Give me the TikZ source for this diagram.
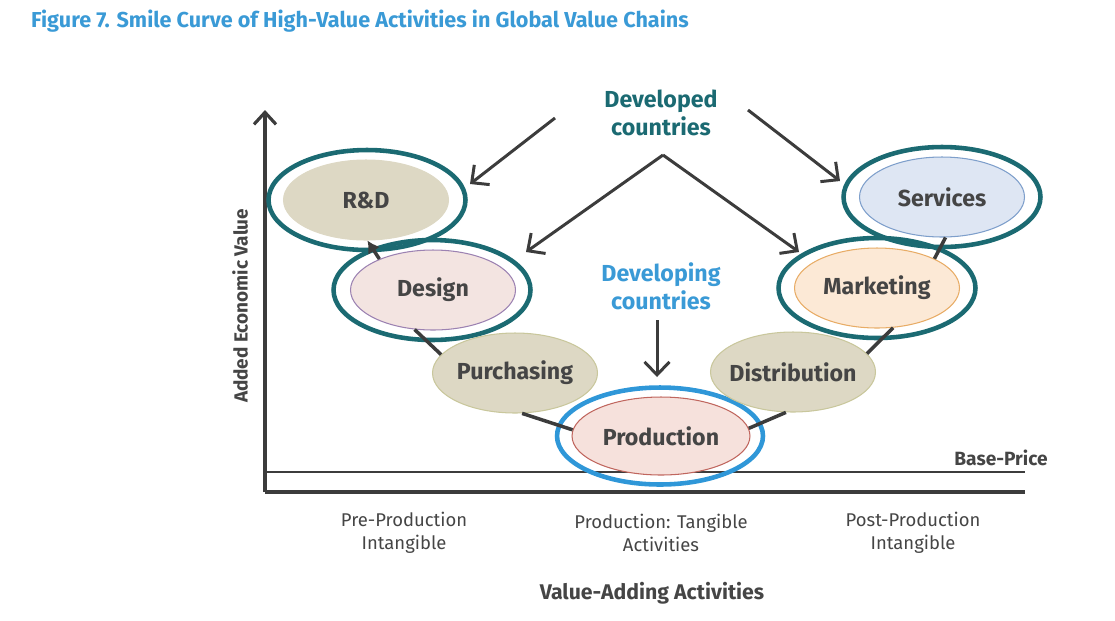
\documentclass[tikz,border=0pt]{standalone}
\usepackage{fontspec}
\setmainfont{Fira Sans}
\usepackage{xcolor}
\usetikzlibrary{shapes.geometric,arrows.meta,positioning}

\definecolor{titleblue}{HTML}{3A9AD6}
\definecolor{tealring}{HTML}{1B6A72}
\definecolor{bluering}{HTML}{2F97D8}
\definecolor{txtgray}{HTML}{454545}
\definecolor{linegray}{HTML}{3C3C3C}
\definecolor{tanfill}{HTML}{DDD8C4}
\definecolor{tandraw}{HTML}{C9C79C}
\definecolor{pinkfill}{HTML}{F3E4E1}
\definecolor{purpdraw}{HTML}{9C82B2}
\definecolor{prodfill}{HTML}{F6E1DC}
\definecolor{proddraw}{HTML}{C0665E}
\definecolor{orgfill}{HTML}{FCE9D6}
\definecolor{orgdraw}{HTML}{E8AC66}
\definecolor{bluefill}{HTML}{DEE6F3}
\definecolor{bluedraw}{HTML}{7E9FCB}

\begin{document}
\begin{tikzpicture}[
    x=0.02cm, y=-0.02cm,
    stage/.style={draw, ellipse, line width=0.6pt, minimum width=3.3cm, minimum height=1.6cm, inner xsep=-4mm, inner ysep=0pt, text=txtgray, font=\bfseries\fontsize{13.2}{15}\selectfont},
    ring/.style={draw=tealring, ellipse, line width=2.6pt, minimum width=3.94cm, minimum height=2cm, inner sep=0pt},
    link/.style={draw=linegray, line width=2pt},
    arrow/.style={-{Straight Barb[length=2.6mm, width=5mm]}, line width=1.7pt, draw=linegray},
    axis/.style={draw=linegray, line width=1.8pt},
    phase/.style={align=center, text=txtgray, font=\fontsize{10.5}{13}\selectfont},
    group/.style={align=center, font=\bfseries\fontsize{13.2}{16}\selectfont}
]
    \useasboundingbox (0,0) rectangle (1115,620);

    % Title
    \node [anchor=west, text=titleblue, font=\bfseries\fontsize{12.3}{14}\selectfont] (title) at (25,21) {Figure 7. Smile Curve of High-Value Activities in Global Value Chains};

    % Axes
    \coordinate (origin) at (265,492);
    \coordinate (ytop) at (265,110);
    \coordinate (xend) at (1025,492);
    \coordinate (base_l) at (265,472);
    \coordinate (base_r) at (1025,472);
    \draw [axis, -{Straight Barb[length=2.4mm, width=4.4mm]}] (origin) -- (ytop);
    \draw [axis] (origin) -- (xend);
    \draw [draw=linegray, line width=0.9pt] (base_l) -- (base_r);

    \node [rotate=90, text=txtgray, font=\bfseries\fontsize{10.8}{12}\selectfont] (ylabel) at (240,306) {Added Economic Value};
    \node [text=txtgray, font=\bfseries\fontsize{10.9}{12}\selectfont] (baseprice) at (1001,458) {Base-Price};

    % Stages
    \node [stage, fill=tanfill, draw=tanfill] (rd) at (366,200) {R\&D};
    \node [ring] (rd_ring) at (367,200) {};
    \node [stage, fill=pinkfill, draw=purpdraw] (design) at (433,290) {Design};
    \node [ring] (design_ring) at (432,290) {};
    \node [stage, fill=tanfill, draw=tandraw] (purch) at (515,373) {Purchasing};
    \node [stage, fill=prodfill, draw=proddraw, minimum width=3.56cm, minimum height=1.56cm] (prod) at (661,436) {Production};
    \node [ring, draw=bluering, minimum width=4.12cm, minimum height=1.94cm] (prod_ring) at (660,436) {};
    \node [stage, fill=tanfill, draw=tandraw] (distr) at (793,372) {Distribution};
    \node [stage, fill=orgfill, draw=orgdraw] (mkt) at (877,288) {Marketing};
    \node [ring] (mkt_ring) at (877,288) {};
    \node [stage, fill=bluefill, draw=bluedraw] (serv) at (942,197) {Services};
    \node [ring] (serv_ring) at (942,197) {};

    % Links along the curve
    \draw [link, -{Latex[length=2.4mm, width=2.8mm]}] (design.150) -- (rd.-88);
    \draw [link] (design.-115) -- (purch.166);
    \draw [link] (purch.-80) -- (prod.176);
    \draw [link] (prod.5) -- (distr.-100);
    \draw [link] (distr.14) -- (mkt.-68);
    \draw [link] (mkt.27) -- (serv.-85);

    % Country groups
    \node [group, text=tealring] (developed) at (661,113) {Developed\\countries};
    \node [group, text=titleblue] (developing) at (661,286) {Developing\\countries};

    \coordinate (dev_l_tail) at (555,118);
    \coordinate (dev_l_tip) at (470,184);
    \coordinate (dev_r_tail) at (748,110);
    \coordinate (dev_r_tip) at (840,181);
    \coordinate (dev_peak) at (663,155);
    \coordinate (dev_cl_tip) at (526,252);
    \coordinate (dev_cr_tip) at (799,252);
    \coordinate (dvg_tail) at (657,320);
    \coordinate (dvg_tip) at (657,377);

    \draw [arrow] (dev_l_tail) -- (dev_l_tip);
    \draw [arrow] (dev_r_tail) -- (dev_r_tip);
    \draw [arrow] (dev_peak) -- (dev_cl_tip);
    \draw [arrow] (dev_peak) -- (dev_cr_tip);
    \draw [arrow] (dvg_tail) -- (dvg_tip);

    % Activity groups
    \node [phase] (pre) at (404,533) {Pre-Production\\Intangible};
    \node [phase] (tangible) at (661,533) {Production: Tangible\\Activities};
    \node [phase] (post) at (913,533) {Post-Production\\Intangible};
    \node [text=txtgray, font=\bfseries\fontsize{12.1}{14}\selectfont] (xlabel) at (652,593) {Value-Adding Activities};

\end{tikzpicture}
\end{document}
